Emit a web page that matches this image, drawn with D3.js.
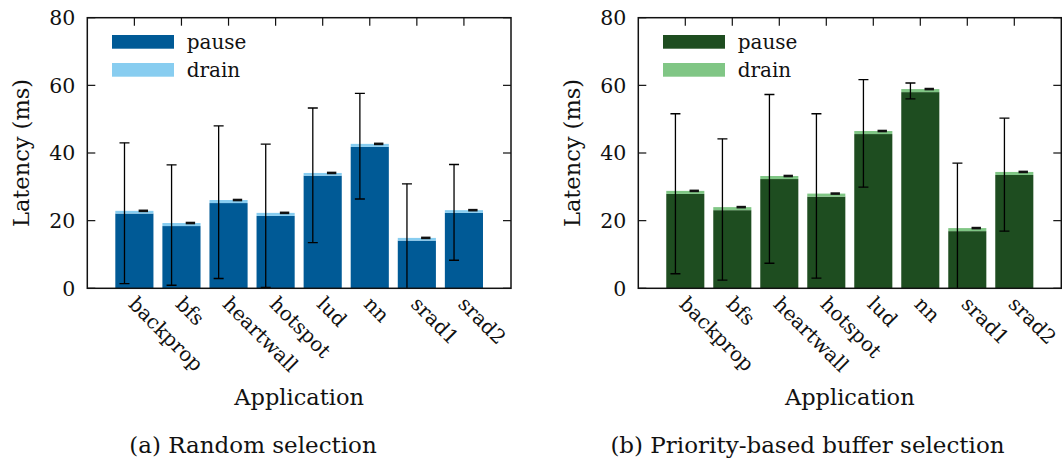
<!DOCTYPE html>
<meta charset="utf-8">
<style>
body { margin: 0; background: #fff; }
svg text { font-family: "DejaVu Serif", serif; fill: #111; }
</style>
<svg width="1062" height="461"></svg>
<script src="https://d3js.org/d3.v7.min.js"></script>
<script>

// data
var apps = ["backprop", "bfs", "heartwall", "hotspot", "lud", "nn", "srad1", "srad2"];
var yTicks = [0, 20, 40, 60, 80];

// (a) random selection
var pauseA   = [22.1, 18.4, 25.2, 21.4, 33.3, 41.8, 14.1, 22.3];
var drainA   = [0.8, 0.9, 0.9, 0.9, 0.8, 0.9, 0.8, 0.8];
var errLowA  = [1.4, 0.9, 2.9, 0.3, 13.5, 26.4, -1.5, 8.3];
var errHighA = [43.0, 36.5, 48.0, 42.6, 53.3, 57.6, 30.9, 36.6];

// (b) priority-based buffer selection
var pauseB   = [27.9, 23.1, 32.3, 27.1, 45.6, 58.0, 16.9, 33.5];
var drainB   = [0.9, 0.9, 0.9, 0.9, 0.9, 0.9, 0.9, 0.9];
var errLowB  = [4.3, 2.4, 7.4, 3.0, 29.9, 56.0, -1.5, 16.9];
var errHighB = [51.6, 44.2, 57.3, 51.6, 61.7, 60.7, 37.0, 50.3];

var svg = d3.select("svg");
var top0 = 17.7, bottom0 = 288.3;

function panel(id, left, right, pause, drain, lo, hi, cPause, cDrain, caption, capX) {
  var g = svg.append("g");

  var x = d3.scalePoint().domain(apps).range([left, right]).padding(1);
  var y = d3.scaleLinear().domain([0, 80]).range([bottom0, top0]);
  var step = x.step(), bw = step * 0.81;

  g.append("clipPath").attr("id", "clip" + id)
    .append("rect").attr("x", left).attr("y", top0)
    .attr("width", right - left).attr("height", bottom0 - top0);

  // ticks, inward on all sides
  var tk = g.append("g").attr("stroke", "#111").attr("stroke-width", 1.2);
  yTicks.forEach(function(v) {
    tk.append("line").attr("x1", left).attr("x2", left + 8).attr("y1", y(v)).attr("y2", y(v));
    tk.append("line").attr("x1", right).attr("x2", right - 8).attr("y1", y(v)).attr("y2", y(v));
  });
  apps.forEach(function(a) {
    tk.append("line").attr("x1", x(a)).attr("x2", x(a)).attr("y1", top0).attr("y2", top0 + 8);
  });

  var rows = apps.map(function(a, i) {
    return {app: a, pause: pause[i], drain: drain[i], lo: lo[i], hi: hi[i]};
  });

  var bars = g.append("g");
  bars.selectAll(".p").data(rows).join("rect")
    .attr("x", d => x(d.app) - bw / 2).attr("width", bw)
    .attr("y", d => y(d.pause)).attr("height", d => y(0) - y(d.pause))
    .attr("fill", cPause);
  bars.selectAll(".d").data(rows).join("rect")
    .attr("x", d => x(d.app) - bw / 2).attr("width", bw)
    .attr("y", d => y(d.pause + d.drain)).attr("height", d => y(d.pause) - y(d.pause + d.drain))
    .attr("fill", cDrain);

  // error bars
  var eb = g.append("g").attr("clip-path", "url(#clip" + id + ")")
    .attr("stroke", "#000").attr("stroke-width", 1.3);
  rows.forEach(function(d) {
    var ex = x(d.app) - step * 0.21;
    eb.append("line").attr("x1", ex).attr("x2", ex).attr("y1", y(d.lo)).attr("y2", y(d.hi));
    [d.lo, d.hi].forEach(function(v) {
      eb.append("line").attr("x1", ex - 5).attr("x2", ex + 5).attr("y1", y(v)).attr("y2", y(v));
    });
    var dx = x(d.app) + step * 0.19, t = d.pause + d.drain;
    eb.append("rect").attr("x", dx - 4.7).attr("width", 9.4)
      .attr("y", y(t) - 1.3).attr("height", 2.6).attr("fill", "#111").attr("stroke", "none");
  });

  // frame
  g.append("rect").attr("x", left).attr("y", top0)
    .attr("width", right - left).attr("height", bottom0 - top0)
    .attr("fill", "none").attr("stroke", "#111").attr("stroke-width", 1.5);

  // tick labels
  yTicks.forEach(function(v) {
    g.append("text").attr("x", left - 12).attr("y", y(v)).attr("dy", "0.36em")
      .attr("text-anchor", "end").attr("font-size", 20.5).text(v);
  });
  apps.forEach(function(a) {
    g.append("text")
      .attr("transform", "translate(" + (x(a) - 7) + "," + (bottom0 + 17) + ") rotate(45)")
      .attr("font-size", 20).text(a);
  });

  // legend
  var lg = [["pause", cPause], ["drain", cDrain]];
  lg.forEach(function(l, i) {
    g.append("rect").attr("x", left + 24.7).attr("y", 35 + i * 28)
      .attr("width", 62).attr("height", 13.7).attr("fill", l[1]);
    g.append("text").attr("x", left + 99.4).attr("y", 48.5 + i * 28)
      .attr("font-size", 20).text(l[0]);
  });

  // axis titles
  g.append("text").attr("transform", "translate(" + (left - 58) + "," + ((top0 + bottom0) / 2) + ") rotate(-90)")
    .attr("text-anchor", "middle").attr("font-size", 22.5).text("Latency (ms)");
  g.append("text").attr("x", (left + right) / 2).attr("y", 405)
    .attr("text-anchor", "middle").attr("font-size", 22.5).text("Application");
  g.append("text").attr("x", capX).attr("y", 453)
    .attr("text-anchor", "middle").attr("font-size", 23).text(caption);
}

panel("a", 87.3, 511, pauseA, drainA, errLowA, errHighA, "#005a96", "#88cdf0",
  "(a) Random selection", 253);
panel("b", 638.3, 1061.3, pauseB, drainB, errLowB, errHighB, "#1e4d20", "#80c685",
  "(b) Priority-based buffer selection", 807.5);

</script>
